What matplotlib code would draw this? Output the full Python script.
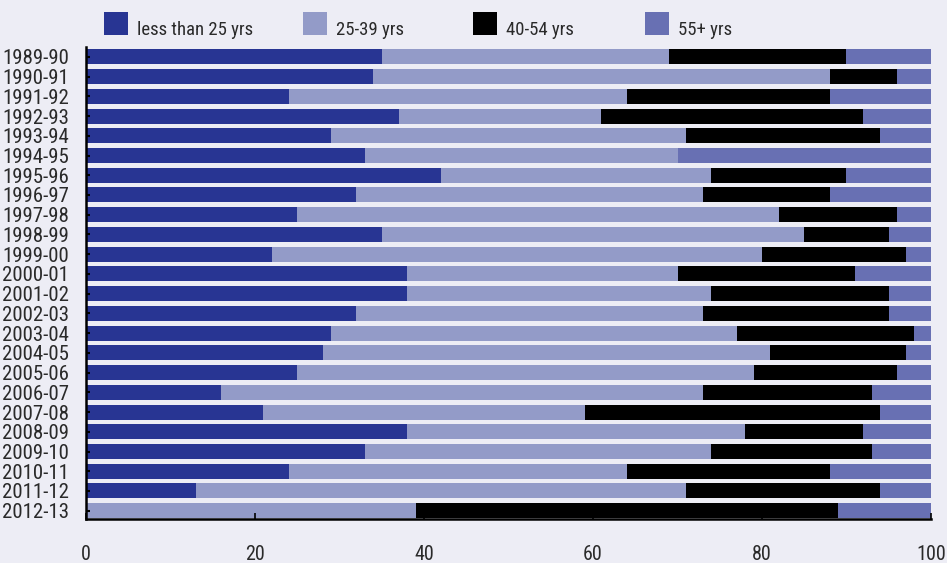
import matplotlib
matplotlib.use("Agg")
import matplotlib.pyplot as plt
import numpy as np
from matplotlib.patches import Rectangle

years = ["1989-90", "1990-91", "1991-92", "1992-93", "1993-94", "1994-95", "1995-96",
         "1996-97", "1997-98", "1998-99", "1999-00", "2000-01", "2001-02", "2002-03",
         "2003-04", "2004-05", "2005-06", "2006-07", "2007-08", "2008-09", "2009-10",
         "2010-11", "2011-12", "2012-13"]
under25 = [35, 34, 24, 37, 29, 33, 42, 32, 25, 35, 22, 38, 38, 32, 29, 28, 25, 16, 21, 38, 33, 24, 13, 0]
age25_39 = [34, 54, 40, 24, 42, 37, 32, 41, 57, 50, 58, 32, 36, 41, 48, 53, 54, 57, 38, 40, 41, 40, 58, 39]
age40_54 = [21, 8, 24, 31, 23, 0, 16, 15, 14, 10, 17, 21, 21, 22, 21, 16, 17, 20, 35, 14, 19, 24, 23, 50]
age55 = [10, 4, 12, 8, 6, 30, 10, 12, 4, 5, 3, 9, 5, 5, 2, 3, 4, 7, 6, 8, 7, 12, 6, 11]
series_names = ["less than 25 yrs", "25-39 yrs", "40-54 yrs", "55+ yrs"]
colors = ["#283593", "#939BC8", "#000000", "#6870B3"]
xticks = [0, 20, 40, 60, 80, 100]

bg = "#EDEDF5"
plt.rcParams['font.family'] = ['Roboto Condensed', 'DejaVu Sans']
txt = "#2a2a2a"

W, H = 947, 563
fig = plt.figure(figsize=(W/100, H/100), dpi=100, facecolor=bg)
ax = fig.add_axes([86/W, 1-519/H, (931-86)/W, (519-47)/H], facecolor=bg)

y = np.arange(len(years))
left = np.zeros(len(years))
for vals, c, name in zip([under25, age25_39, age40_54, age55], colors, series_names):
    v = np.array(vals, dtype=float)
    ax.barh(y, v, left=left, height=0.76, color=c, label=name, linewidth=0)
    left += v

ax.set_ylim(23.42, -0.5)
ax.set_xlim(0, 100)
ax.set_yticks(y)
ax.set_yticklabels(years, fontsize=15, color=txt)
ax.set_xticks(xticks)
ax.set_xticklabels([str(t) for t in xticks], fontsize=14.5, color=txt)
ax.tick_params(axis='x', direction='in', length=4, width=1.2, pad=19, color='black')
ax.tick_params(axis='y', direction='in', length=3, width=1.5, pad=12, color='black')
for s in ['top', 'right']:
    ax.spines[s].set_visible(False)
for s in ['left', 'bottom']:
    ax.spines[s].set_linewidth(1.8)
    ax.spines[s].set_color('black')

# legend drawn manually at the top of the figure
patch_x = [104, 303, 473, 645]
for px, c, name in zip(patch_x, colors, series_names):
    fig.patches.append(Rectangle((px/W, 1-35/H), 24/W, 23/H, transform=fig.transFigure,
                                 facecolor=c, edgecolor='none'))
    fig.text((px+33)/W, 1-35/H, name, fontsize=13.5, color=txt, va='baseline', ha='left')

fig.savefig("out.png", dpi=100, facecolor=bg)
